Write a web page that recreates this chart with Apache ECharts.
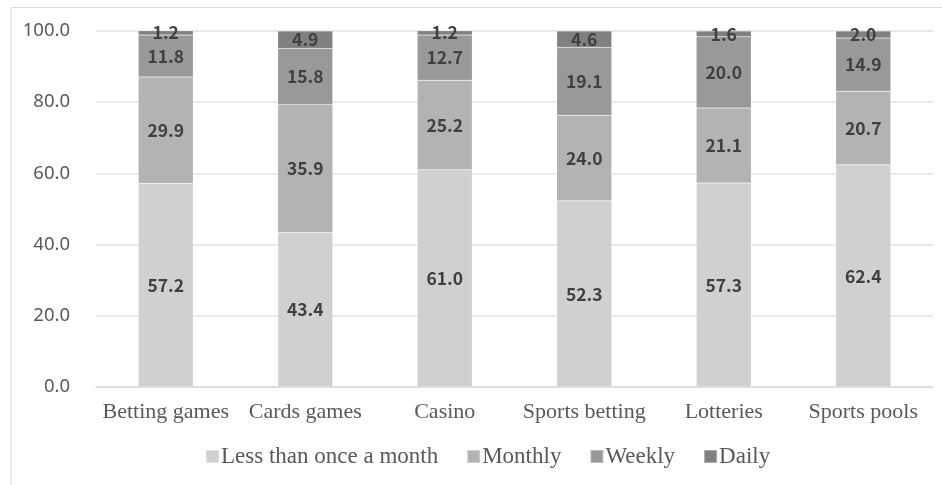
<!DOCTYPE html>
<html><head><meta charset="utf-8">
<script src="https://cdn.jsdelivr.net/npm/echarts@6/dist/echarts.min.js"></script>
<style>html,body{margin:0;padding:0;background:#fff}#c{width:942px;height:485px}</style>
</head><body><div id="c"></div>
<script>
var categories = ['Betting games','Cards games','Casino','Sports betting','Lotteries','Sports pools'];
var lessThanMonthly = [57.2, 43.4, 61.0, 52.3, 57.3, 62.4];
var monthly = [29.9, 35.9, 25.2, 24.0, 21.1, 20.7];
var weekly = [11.8, 15.8, 12.7, 19.1, 20.0, 14.9];
var daily = [1.2, 4.9, 1.2, 4.6, 1.6, 2.0];
var seriesNames = ['Less than once a month','Monthly','Weekly','Daily'];
var yTicks = [0, 20, 40, 60, 80, 100];

var colors = ['#d0d0d0','#b3b3b3','#999999','#808080'];
var data = [lessThanMonthly, monthly, weekly, daily];
var chart = echarts.init(document.getElementById('c'));
var series = data.map(function(d, i){
  return {
    name: seriesNames[i], type: 'bar', stack: 'total', data: d, barWidth: 55,
    itemStyle: {color: colors[i], borderColor: 'rgba(255,255,255,0.35)', borderWidth: 0.5},
    label: {show: true, position: 'inside', color: '#404040', fontWeight: 'bold',
      fontFamily: 'Noto Sans CJK KR', fontSize: 17.5,
      formatter: function(p){ return p.value.toFixed(1); }},
    emphasis: {disabled: true}
  };
});
chart.setOption({
  animation: false,
  color: colors,
  graphic: [{type: 'polyline', shape: {points: [[11, 485], [11, 7.5], [942, 7.5]]},
    style: {stroke: '#d9d9d9', lineWidth: 1, fill: null}}],
  grid: {left: 96, right: 9, top: 31, bottom: 98},
  legend: {bottom: 12, left: 200, itemWidth: 13, itemHeight: 13, itemGap: 28,
    icon: 'rect',
    textStyle: {fontFamily: 'Liberation Serif', fontSize: 23, color: '#595959', padding: [0,0,0,-3]},
    data: seriesNames},
  xAxis: {type: 'category', data: categories,
    axisLine: {lineStyle: {color: '#d9d9d9', width: 1.5}}, axisTick: {show: false},
    axisLabel: {interval: 0, fontFamily: 'Liberation Serif', fontSize: 22, color: '#595959', margin: 14}},
  yAxis: {type: 'value', min: 0, max: 100, interval: 20,
    axisLine: {show: false}, axisTick: {show: false},
    splitLine: {lineStyle: {color: '#e3e3e3', width: 1.5}},
    axisLabel: {fontFamily: 'Noto Sans', fontSize: 18.5, color: '#595959', margin: 26,
      formatter: function(v){ return yTicks.indexOf(v) >= 0 ? v.toFixed(1) : ''; }}},
  series: series
});
</script></body></html>
